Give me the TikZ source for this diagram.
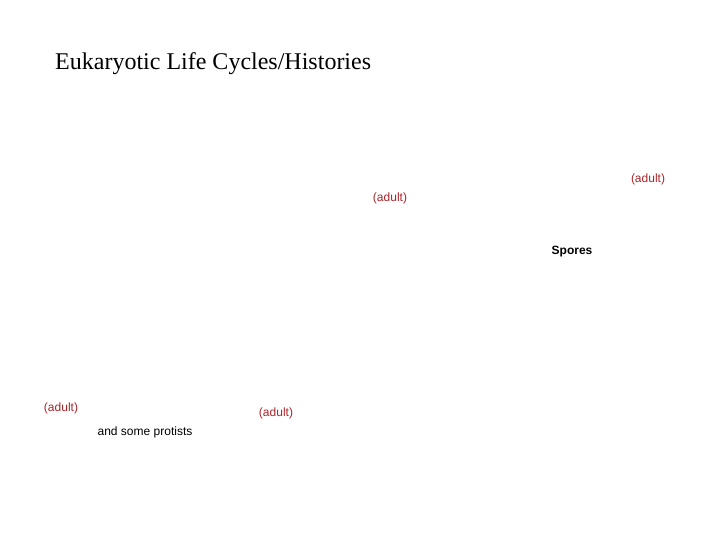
\documentclass[tikz,border=0pt]{standalone}
\usepackage{fontspec}
\setmainfont{Liberation Serif}
\setsansfont{Liberation Sans}
\definecolor{adultred}{RGB}{170,36,40}
\begin{document}
\begin{tikzpicture}%
	[x=1pt,
	y=-1pt,
	title/.style={inner sep=0pt, font=\fontsize{24}{28}\selectfont},
	adult/.style={inner sep=0pt, text=adultred, font=\sffamily\fontsize{12}{14}\selectfont},
	label/.style={inner sep=0pt, text=black, font=\sffamily\fontsize{12}{14}\selectfont},
	boldlabel/.style={label, font=\sffamily\bfseries\fontsize{12}{14}\selectfont}]
%
\useasboundingbox (0,0) rectangle (720,540);
%%
%% Title
%%
\node[title, anchor=base west] (title) at (55,70) {Eukaryotic Life Cycles/Histories};
%%
%% Labels
%%
\node[adult] (adultA) at (648,179) {(adult)};
\node[adult] (adultB) at (390,198) {(adult)};
\node[boldlabel] (spores) at (572,252) {Spores};
\node[adult] (adultC) at (61,408) {(adult)};
\node[adult] (adultD) at (276,413) {(adult)};
\node[label] (protists) at (145,432) {and some protists};
\end{tikzpicture}
\end{document}
